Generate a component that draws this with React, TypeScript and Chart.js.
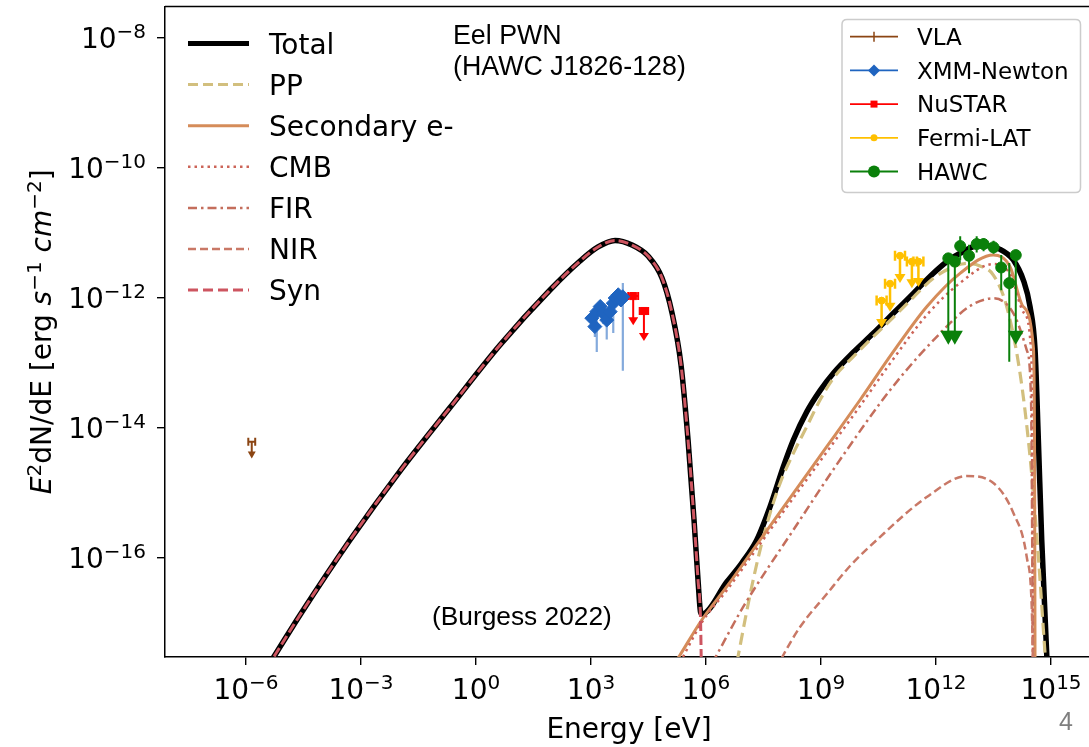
import React, { useEffect, useRef } from "react";
import { Chart, registerables } from "chart.js";
Chart.register(...registerables);

// ---------- axes (log10 values) ----------
const X_RANGE_LOG = [-8.113, 15.99];
const Y_RANGE_LOG = [-17.523, -7.515];
const X_TICK_EXPONENTS = [-6, -3, 0, 3, 6, 9, 12, 15];
const Y_TICK_EXPONENTS = [-8, -10, -12, -14, -16];

// ---------- model curves: log10(E/eV), log10(E^2 dN/dE) ----------
const SYN_LOG_E = [-5.661, -5.244, -4.591, -3.287, -1.983, -0.678, 0.626, 1.93, 2.713, 3.183, 3.626, 4.07, 4.487, 4.852, 5.113, 5.348, 5.531, 5.687, 5.791, 5.857, 5.883];
const SYN_LOG_F = [-17.877, -17.492, -16.877, -15.723, -14.662, -13.685, -12.723, -11.877, -11.431, -11.215, -11.115, -11.185, -11.354, -11.692, -12.231, -13.031, -14.185, -15.415, -16.338, -16.954, -17.877];

const TOTAL_LOG_E = [-5.661, -5.244, -4.591, -3.287, -1.983, -0.678, 0.626, 1.93, 2.713, 3.183, 3.626, 4.07, 4.487, 4.852, 5.113, 5.348, 5.531, 5.687, 5.791, 5.857, 5.896, 6.54, 6.931, 7.323, 7.67, 8.017, 8.277, 8.627, 8.974, 9.321, 9.843, 10.364, 10.886, 11.408, 11.93, 12.279, 12.626, 13.148, 13.67, 14.017, 14.277, 14.452, 14.583, 14.669, 14.757, 14.888, 14.93];
const TOTAL_LOG_F = [-17.877, -17.492, -16.877, -15.723, -14.662, -13.685, -12.723, -11.877, -11.431, -11.215, -11.115, -11.185, -11.354, -11.692, -12.231, -13.031, -14.185, -15.415, -16.338, -16.831, -16.862, -16.369, -16.077, -15.723, -15.211, -14.595, -14.185, -13.752, -13.425, -13.158, -12.835, -12.543, -12.235, -11.928, -11.62, -11.442, -11.312, -11.185, -11.251, -11.415, -11.723, -12.134, -12.8, -14.185, -15.723, -17.492, -17.877];

const PP_LOG_E = [6.712, 6.843, 7.017, 7.192, 7.409, 7.67, 7.931, 8.277, 8.627, 8.974, 9.321, 9.843, 10.364, 10.886, 11.408, 11.93, 12.452, 12.801, 13.148, 13.495, 13.845, 14.191, 14.452, 14.669, 14.843, 14.896];
const PP_LOG_F = [-17.877, -17.492, -16.954, -16.442, -15.877, -15.312, -14.851, -14.389, -13.98, -13.569, -13.235, -12.903, -12.595, -12.297, -11.989, -11.697, -11.518, -11.466, -11.508, -11.646, -12.134, -13.158, -14.442, -15.98, -17.466, -17.877];

const SEC_LOG_E = [4.904, 5.322, 5.888, 6.54, 7.409, 8.277, 9.149, 10.017, 10.886, 11.757, 12.626, 13.495, 13.93, 14.277, 14.538, 14.57, 14.583];
const SEC_LOG_F = [-17.877, -17.492, -16.954, -16.442, -15.723, -15.005, -14.288, -13.569, -12.826, -12.134, -11.62, -11.338, -11.518, -12.134, -12.749, -14.34, -17.877];

const CMB_LOG_E = [5.087, 5.426, 5.896, 6.548, 7.409, 8.277, 9.149, 10.017, 10.886, 11.757, 12.626, 13.495, 13.93, 14.277, 14.478, 14.504, 14.53];
const CMB_LOG_F = [-17.877, -17.492, -16.985, -16.492, -15.785, -15.077, -14.369, -13.662, -12.938, -12.262, -11.769, -11.477, -11.631, -12.215, -12.8, -13.877, -17.877];

const FIR_LOG_E = [5.922, 6.279, 6.973, 8.277, 9.582, 10.886, 12.191, 12.887, 13.495, 14.017, 14.366, 14.478, 14.53];
const FIR_LOG_F = [-17.877, -17.492, -16.749, -15.569, -14.415, -13.354, -12.492, -12.123, -12.005, -12.235, -12.8, -13.569, -17.877];

const NIR_LOG_E = [7.69, 8.017, 8.452, 9.149, 9.757, 10.453, 11.757, 12.801, 13.495, 14.017, 14.366, 14.496, 14.538];
const NIR_LOG_F = [-17.877, -17.492, -17.062, -16.554, -16.123, -15.723, -15.062, -14.738, -14.846, -15.308, -15.985, -16.754, -17.877];

// ---------- measurements ----------
const VLA_LOG_E = [-5.85];
const VLA_LOG_F = [-14.21];
const VLA_LOG_LIMIT_TIP = [-14.47];
const VLA_X_ERR_DEX = [0.09];

const XMM_LOG_E = [3.02, 3.1, 3.15, 3.24, 3.32, 3.41, 3.5, 3.58, 3.63, 3.71, 3.78, 3.83];
const XMM_LOG_F = [-12.31, -12.44, -12.21, -12.13, -12.24, -12.34, -12.21, -12.08, -12.0, -11.95, -12.03, -11.98];
const XMM_LOG_LO = [-12.45, -12.6, -12.83, -12.25, -12.4, -12.64, -12.38, -12.54, -12.12, -12.06, -12.14, -13.12];
const XMM_LOG_HI = [-12.2, -12.35, -12.12, -12.04, -12.14, -12.22, -12.1, -11.98, -11.92, -11.87, -11.94, -11.77];

const NUSTAR_LOG_E = [4.1, 4.38];
const NUSTAR_LOG_F = [-11.97, -12.2];
const NUSTAR_LOG_LIMIT_TIP = [-12.42, -12.66];
const NUSTAR_X_ERR_DEX = [0.13, 0.11];

const FERMI_LOG_E = [10.58, 10.8, 11.06, 11.37, 11.54];
const FERMI_LOG_F = [-12.04, -11.78, -11.35, -11.44, -11.44];
const FERMI_LOG_LIMIT_TIP = [-12.46, -12.21, -11.77, -11.85, -11.83];
const FERMI_X_ERR_DEX = [0.13, 0.13, 0.13, 0.13, 0.13];

const HAWC_LOG_E = [12.63, 12.86, 13.06, 13.24, 13.5, 13.7, 13.91];
const HAWC_LOG_F = [-11.2, -11.35, -11.17, -11.17, -11.22, -11.53, -11.77];
const HAWC_LOG_LO = [-11.42, -11.62, -11.3, -11.28, -11.32, -11.88, -12.98];
const HAWC_LOG_HI = [-11.05, -11.18, -11.05, -11.08, -11.12, -11.34, -11.46];

const HAWC_UL_LOG_E = [12.32, 12.49, 14.08];
const HAWC_UL_LOG_F = [-11.39, -11.44, -11.34];
const HAWC_UL_LOG_LIMIT_TIP = [-12.72, -12.72, -12.72];

// ---------- styles ----------
const C = {
  total: "#000000",
  pp: "#d2bf7e",
  sec: "#d58c5a",
  cmb: "#cc6458",
  fir: "#c46e5c",
  nir: "#c97866",
  syn: "#cd5560",
  vla: "#8b4513",
  xmm: "#1f64c0",
  xmmErr: "rgba(31,100,192,0.55)",
  nustar: "#ff0000",
  fermi: "#ffc000",
  hawc: "#0a800a",
};

const FONT = '"DejaVu Sans", sans-serif';
const ARIAL = '"Liberation Sans", Arial, sans-serif';

const p10 = (v: number) => Math.pow(10, v);
const pts = (e: number[], f: number[]) => e.map((v, i) => ({ x: p10(v), y: p10(f[i]) }));

const LEFT_LEGEND = [
  { label: "Total", color: C.total, width: 5, dash: [] as number[] },
  { label: "PP", color: C.pp, width: 3, dash: [10, 5] },
  { label: "Secondary e-", color: C.sec, width: 3, dash: [] },
  { label: "CMB", color: C.cmb, width: 2.5, dash: [2.5, 4] },
  { label: "FIR", color: C.fir, width: 2.5, dash: [9, 4, 2.5, 4] },
  { label: "NIR", color: C.nir, width: 2.5, dash: [8, 4] },
  { label: "Syn", color: C.syn, width: 3, dash: [10, 5] },
];

const RIGHT_LEGEND = [
  { label: "VLA", color: C.vla, marker: "vtick" },
  { label: "XMM-Newton", color: C.xmm, marker: "diamond" },
  { label: "NuSTAR", color: C.nustar, marker: "square" },
  { label: "Fermi-LAT", color: C.fermi, marker: "smallcircle" },
  { label: "HAWC", color: C.hawc, marker: "circle" },
];

function curve(label: string, e: number[], f: number[], color: string, width: number, dash: number[], order: number) {
  return {
    label,
    data: pts(e, f),
    borderColor: color,
    backgroundColor: color,
    borderWidth: width,
    borderDash: dash,
    pointRadius: 0,
    fill: false,
    cubicInterpolationMode: "monotone",
    borderCapStyle: "butt",
    borderJoinStyle: "round",
    order,
  };
}

function measurement(label: string, e: number[], f: number[], color: string, style: string, radius: number, spec: any) {
  return {
    label,
    data: pts(e, f),
    showLine: false,
    pointStyle: style,
    pointRadius: radius,
    pointBackgroundColor: color,
    pointBorderColor: color,
    pointBorderWidth: 1,
    borderColor: color,
    backgroundColor: color,
    order: 0,
    errorSpec: { logE: e, logF: f, ...spec },
  };
}

const errorBarPlugin = {
  id: "errbars",
  beforeDatasetDraw(chart: any, args: any) {
    const ds: any = chart.data.datasets[args.index];
    const s = ds.errorSpec;
    if (!s) return;
    const xs = chart.scales.x;
    const ys = chart.scales.y;
    const ctx = chart.ctx;
    const ca = chart.chartArea;
    ctx.save();
    ctx.beginPath();
    ctx.rect(ca.left, ca.top, ca.right - ca.left, ca.bottom - ca.top);
    ctx.clip();
    ctx.lineWidth = s.lineWidth;
    s.logE.forEach((e: number, i: number) => {
      const px = xs.getPixelForValue(p10(e));
      const py = ys.getPixelForValue(p10(s.logF[i]));
      ctx.strokeStyle = s.color;
      ctx.fillStyle = s.color;
      if (s.xErr) {
        const x1 = xs.getPixelForValue(p10(e - s.xErr[i]));
        const x2 = xs.getPixelForValue(p10(e + s.xErr[i]));
        ctx.beginPath();
        ctx.moveTo(x1, py);
        ctx.lineTo(x2, py);
        ctx.moveTo(x1, py - s.cap);
        ctx.lineTo(x1, py + s.cap);
        ctx.moveTo(x2, py - s.cap);
        ctx.lineTo(x2, py + s.cap);
        ctx.stroke();
      }
      if (s.lo && s.hi) {
        ctx.beginPath();
        ctx.moveTo(px, ys.getPixelForValue(p10(s.lo[i])));
        ctx.lineTo(px, ys.getPixelForValue(p10(s.hi[i])));
        ctx.stroke();
      }
      if (s.tip) {
        const pt = ys.getPixelForValue(p10(s.tip[i]));
        ctx.beginPath();
        ctx.moveTo(px, py);
        ctx.lineTo(px, pt - s.headH * 0.5);
        ctx.stroke();
        ctx.beginPath();
        ctx.moveTo(px - s.headW / 2, pt - s.headH);
        ctx.lineTo(px + s.headW / 2, pt - s.headH);
        ctx.lineTo(px, pt);
        ctx.closePath();
        ctx.fill();
      }
    });
    ctx.restore();
  },
};

function drawPow(ctx: CanvasRenderingContext2D, exp: number, x: number, y: number, align: string) {
  const main = "10";
  const sup = exp < 0 ? "\u2212" + Math.abs(exp) : String(exp);
  ctx.font = `28px ${FONT}`;
  const w1 = ctx.measureText(main).width;
  ctx.font = `20px ${FONT}`;
  const w2 = ctx.measureText(sup).width;
  const total = w1 + w2;
  const x0 = align === "center" ? x - total / 2 : x - total;
  ctx.textAlign = "left";
  ctx.textBaseline = "alphabetic";
  ctx.fillStyle = "#000";
  ctx.font = `28px ${FONT}`;
  ctx.fillText(main, x0, y);
  ctx.font = `20px ${FONT}`;
  ctx.fillText(sup, x0 + w1, y - 10);
}

function drawMarker(ctx: CanvasRenderingContext2D, kind: string, x: number, y: number, color: string) {
  ctx.fillStyle = color;
  ctx.strokeStyle = color;
  ctx.beginPath();
  if (kind === "diamond") {
    ctx.moveTo(x, y - 6);
    ctx.lineTo(x + 6, y);
    ctx.lineTo(x, y + 6);
    ctx.lineTo(x - 6, y);
    ctx.closePath();
    ctx.fill();
  } else if (kind === "square") {
    ctx.rect(x - 3.5, y - 3.5, 7, 7);
    ctx.fill();
  } else if (kind === "smallcircle") {
    ctx.arc(x, y, 3.5, 0, Math.PI * 2);
    ctx.fill();
  } else if (kind === "circle") {
    ctx.arc(x, y, 6, 0, Math.PI * 2);
    ctx.fill();
  } else if (kind === "vtick") {
    ctx.lineWidth = 1.5;
    ctx.moveTo(x, y - 5);
    ctx.lineTo(x, y + 5);
    ctx.stroke();
  }
}

const decorPlugin = {
  id: "decor",
  afterDraw(chart: any) {
    const ctx: CanvasRenderingContext2D = chart.ctx;
    const ca = chart.chartArea;
    const xs = chart.scales.x;
    const ys = chart.scales.y;
    ctx.save();
    // top frame line
    ctx.strokeStyle = "#000";
    ctx.lineWidth = 1.5;
    ctx.beginPath();
    ctx.moveTo(ca.left, ca.top);
    ctx.lineTo(ca.right, ca.top);
    ctx.stroke();

    // tick labels
    X_TICK_EXPONENTS.forEach((e) => drawPow(ctx, e, xs.getPixelForValue(p10(e)), 699, "center"));
    Y_TICK_EXPONENTS.forEach((e) => drawPow(ctx, e, 146, ys.getPixelForValue(p10(e)) + 10, "right"));

    // x title
    ctx.fillStyle = "#000";
    ctx.font = `28px ${FONT}`;
    ctx.textAlign = "center";
    ctx.textBaseline = "alphabetic";
    ctx.fillText("Energy [eV]", 629, 738);

    // y title (rotated)
    const segs = [
      { t: "E", it: true, sup: false },
      { t: "2", it: false, sup: true },
      { t: "dN/dE [erg ", it: false, sup: false },
      { t: "s", it: true, sup: false },
      { t: "\u22121", it: false, sup: true },
      { t: " ", it: false, sup: false },
      { t: "cm", it: true, sup: false },
      { t: "\u22122", it: false, sup: true },
      { t: "]", it: false, sup: false },
    ];
    const fontOf = (sg: any) => `${sg.it ? "italic " : ""}${sg.sup ? 20 : 28}px ${FONT}`;
    let totalW = 0;
    segs.forEach((sg) => {
      ctx.font = fontOf(sg);
      totalW += ctx.measureText(sg.t).width;
    });
    ctx.save();
    ctx.translate(51, (ca.top + ca.bottom) / 2);
    ctx.rotate(-Math.PI / 2);
    ctx.textAlign = "left";
    let cx = -totalW / 2;
    segs.forEach((sg) => {
      ctx.font = fontOf(sg);
      ctx.fillText(sg.t, cx, sg.sup ? -10 : 0);
      cx += ctx.measureText(sg.t).width;
    });
    ctx.restore();

    // left legend
    LEFT_LEGEND.forEach((item, i) => {
      const y = 43.5 + 41.1 * i;
      ctx.strokeStyle = item.color;
      ctx.lineWidth = item.width;
      ctx.setLineDash(item.dash);
      ctx.lineCap = "butt";
      ctx.beginPath();
      ctx.moveTo(188, y);
      ctx.lineTo(249, y);
      ctx.stroke();
      ctx.setLineDash([]);
      ctx.fillStyle = "#000";
      ctx.font = `28px ${FONT}`;
      ctx.textAlign = "left";
      ctx.fillText(item.label, 269, y + 10);
    });

    // right legend box
    const bx = 842, by = 19.5, bw = 238.5, bh = 173, r = 5;
    ctx.beginPath();
    ctx.moveTo(bx + r, by);
    ctx.lineTo(bx + bw - r, by);
    ctx.quadraticCurveTo(bx + bw, by, bx + bw, by + r);
    ctx.lineTo(bx + bw, by + bh - r);
    ctx.quadraticCurveTo(bx + bw, by + bh, bx + bw - r, by + bh);
    ctx.lineTo(bx + r, by + bh);
    ctx.quadraticCurveTo(bx, by + bh, bx, by + bh - r);
    ctx.lineTo(bx, by + r);
    ctx.quadraticCurveTo(bx, by, bx + r, by);
    ctx.closePath();
    ctx.fillStyle = "rgba(255,255,255,0.85)";
    ctx.fill();
    ctx.strokeStyle = "#cccccc";
    ctx.lineWidth = 1.5;
    ctx.stroke();
    RIGHT_LEGEND.forEach((item, i) => {
      const y = 36.7 + 33.7 * i;
      ctx.strokeStyle = item.color;
      ctx.lineWidth = 1.8;
      ctx.beginPath();
      ctx.moveTo(850, y);
      ctx.lineTo(898, y);
      ctx.stroke();
      drawMarker(ctx, item.marker, 874, y, item.color);
      ctx.fillStyle = "#000";
      ctx.font = `23px ${FONT}`;
      ctx.textAlign = "left";
      ctx.fillText(item.label, 917, y + 8.3);
    });

    // annotations
    ctx.fillStyle = "#000";
    ctx.font = `26.8px ${ARIAL}`;
    ctx.textAlign = "left";
    ctx.fillText("Eel PWN", 453, 43.5);
    ctx.fillText("(HAWC J1826-128)", 453, 75);
    ctx.font = `26.3px ${ARIAL}`;
    ctx.fillText("(Burgess 2022)", 432, 625);
    ctx.fillStyle = "#7f7f7f";
    ctx.font = `25px ${ARIAL}`;
    ctx.fillText("4", 1059, 730);
    ctx.restore();
  },
};

export default function App() {
  const ref = useRef<HTMLCanvasElement | null>(null);
  useEffect(() => {
    if (!ref.current) return;
    const datasets: any[] = [
      measurement("VLA", VLA_LOG_E, VLA_LOG_F, C.vla, "circle", 0, {
        color: C.vla, lineWidth: 2, xErr: VLA_X_ERR_DEX, cap: 4, tip: VLA_LOG_LIMIT_TIP, headW: 8, headH: 7,
      }),
      measurement("XMM-Newton", XMM_LOG_E, XMM_LOG_F, C.xmm, "rectRot", 7, {
        color: C.xmmErr, lineWidth: 2.2, lo: XMM_LOG_LO, hi: XMM_LOG_HI,
      }),
      measurement("NuSTAR", NUSTAR_LOG_E, NUSTAR_LOG_F, C.nustar, "rect", 5, {
        color: C.nustar, lineWidth: 2, xErr: NUSTAR_X_ERR_DEX, cap: 4, tip: NUSTAR_LOG_LIMIT_TIP, headW: 10, headH: 8,
      }),
      measurement("Fermi-LAT", FERMI_LOG_E, FERMI_LOG_F, C.fermi, "circle", 3.5, {
        color: C.fermi, lineWidth: 2.5, xErr: FERMI_X_ERR_DEX, cap: 5, tip: FERMI_LOG_LIMIT_TIP, headW: 11, headH: 9,
      }),
      measurement("HAWC", HAWC_LOG_E, HAWC_LOG_F, C.hawc, "circle", 5.5, {
        color: C.hawc, lineWidth: 2, lo: HAWC_LOG_LO, hi: HAWC_LOG_HI,
      }),
      measurement("HAWC UL", HAWC_UL_LOG_E, HAWC_UL_LOG_F, C.hawc, "circle", 5.5, {
        color: C.hawc, lineWidth: 2, tip: HAWC_UL_LOG_LIMIT_TIP, headW: 16, headH: 14,
      }),
      curve("Syn", SYN_LOG_E, SYN_LOG_F, C.syn, 3, [10, 4], 1),
      curve("NIR", NIR_LOG_E, NIR_LOG_F, C.nir, 2.5, [8, 4], 2),
      curve("FIR", FIR_LOG_E, FIR_LOG_F, C.fir, 2.5, [9, 4, 2.5, 4], 3),
      curve("CMB", CMB_LOG_E, CMB_LOG_F, C.cmb, 2.5, [2.5, 4], 4),
      curve("Secondary e-", SEC_LOG_E, SEC_LOG_F, C.sec, 3, [], 5),
      curve("PP", PP_LOG_E, PP_LOG_F, C.pp, 3.2, [12, 6], 6),
      curve("Total", TOTAL_LOG_E, TOTAL_LOG_F, C.total, 5.5, [], 7),
    ];
    const chart = new Chart(ref.current, {
      type: "line",
      data: { datasets },
      options: {
        animation: false,
        responsive: false,
        devicePixelRatio: 1,
        events: [],
        layout: { padding: { left: 0, right: 0, top: 6.5, bottom: 0 }, autoPadding: false },
        plugins: { legend: { display: false }, tooltip: { enabled: false } },
        scales: {
          x: {
            type: "logarithmic",
            bounds: "data",
            min: p10(X_RANGE_LOG[0]),
            max: p10(X_RANGE_LOG[1]),
            afterBuildTicks: (s: any) => {
              s.ticks = X_TICK_EXPONENTS.map((e) => ({ value: p10(e) }));
            },
            afterFit: (s: any) => {
              s.height = 90;
            },
            ticks: { display: false },
            grid: { display: true, drawOnChartArea: false, drawTicks: true, tickLength: 8, color: "#000", lineWidth: 1.4 },
            border: { display: true, color: "#000", width: 1.5 },
          },
          y: {
            type: "logarithmic",
            bounds: "data",
            min: p10(Y_RANGE_LOG[0]),
            max: p10(Y_RANGE_LOG[1]),
            afterBuildTicks: (s: any) => {
              s.ticks = Y_TICK_EXPONENTS.map((e) => ({ value: p10(e) }));
            },
            afterFit: (s: any) => {
              s.width = 165;
            },
            ticks: { display: false },
            grid: { display: true, drawOnChartArea: false, drawTicks: true, tickLength: 8, color: "#000", lineWidth: 1.4 },
            border: { display: true, color: "#000", width: 1.5 },
          },
        },
      } as any,
      plugins: [errorBarPlugin, decorPlugin],
    } as any);
    return () => chart.destroy();
  }, []);
  return (
    <div style={{ position: "fixed", left: 0, top: 0, width: 1089, height: 747, background: "#fff" }}>
      <canvas ref={ref} width={1089} height={747} style={{ display: "block" }} />
    </div>
  );
}
